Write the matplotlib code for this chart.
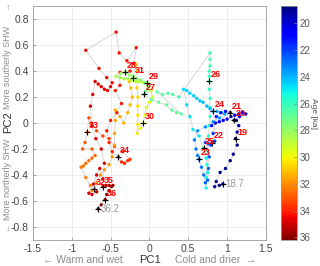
import numpy as np
import matplotlib
matplotlib.use("Agg")
import matplotlib.pyplot as plt

plt.rcParams['axes.unicode_minus'] = False
plt.rcParams['font.family'] = ['Liberation Sans', 'DejaVu Sans']

# Trajectory in PC space, oldest (36.2 ka) to youngest (18.7 ka)
age = [36.2, 36.1, 36.0, 35.9, 35.8, 35.7, 35.6, 35.4, 35.2, 35.0,
       34.97, 34.95, 34.92, 34.90, 34.87, 34.85, 34.82, 34.80, 34.77, 34.75,
       34.72, 34.70, 34.67, 34.65, 34.62, 34.60, 34.57, 34.55, 34.52, 34.50,
       34.47, 34.45, 34.42, 34.40, 34.37, 34.35, 34.32, 34.30, 34.27, 34.25,
       34.22, 34.20, 34.17, 34.15, 34.12, 34.10, 34.07, 34.05, 34.0,
       33.92, 33.84, 33.76, 33.68, 33.6, 33.5, 33.4, 33.3, 33.2, 33.12, 33.06, 33.0,
       32.93, 32.86, 32.79, 32.72, 32.65, 32.58, 32.5, 32.42, 32.34, 32.25, 32.16, 32.08, 32.0,
       31.94, 31.88, 31.82, 31.76, 31.7, 31.64, 31.58, 31.52, 31.46, 31.4, 31.34, 31.28, 31.22, 31.16, 31.1, 31.05, 31.0,
       30.91, 30.82, 30.73, 30.64, 30.55, 30.46, 30.37, 30.28, 30.19, 30.1, 30.0,
       29.85, 29.7, 29.55, 29.4, 29.25, 29.1, 29.0,
       28.9, 28.8, 28.7, 28.6, 28.5, 28.4, 28.3, 28.2, 28.1, 28.0,
       27.89, 27.78, 27.67, 27.56, 27.45, 27.34, 27.23, 27.12, 27.0,
       26.94, 26.88, 26.82, 26.76, 26.7, 26.64, 26.58, 26.52, 26.46, 26.4, 26.34, 26.28, 26.22, 26.16, 26.1, 26.05, 26.0,
       25.92, 25.84, 25.76, 25.68, 25.6, 25.52, 25.44, 25.36, 25.28, 25.2, 25.13, 25.06, 25.0,
       24.93, 24.86, 24.79, 24.72, 24.65, 24.58, 24.5, 24.42, 24.34, 24.26, 24.18, 24.1, 24.05, 24.0,
       23.9, 23.8, 23.7, 23.6, 23.5, 23.4, 23.3, 23.2, 23.1, 23.05, 23.0,
       22.9, 22.8, 22.7, 22.6, 22.5, 22.4, 22.3, 22.2, 22.1, 22.0,
       21.8, 21.6, 21.4, 21.2, 21.1, 21.0,
       20.92, 20.84, 20.76, 20.68, 20.6, 20.52, 20.44, 20.36, 20.28, 20.2, 20.1, 20.0,
       19.75, 19.5, 19.25, 19.0,
       18.97, 18.93, 18.9, 18.87, 18.83, 18.8, 18.77, 18.73, 18.7]

pc1 = [-0.66, -0.62, -0.57, -0.55, -0.52, -0.49, -0.47, -0.52, -0.56, -0.60,
       -0.68, -0.74, -0.78, -0.72, -0.68, -0.64, -0.60, -0.58, -0.62, -0.69,
       -0.74, -0.76, -0.73, -0.70, -0.66, -0.62, -0.58, -0.54, -0.50, -0.48,
       -0.55, -0.65, -0.82, -0.43, -0.39, -0.29, -0.17, -0.20, -0.25, -0.38,
       -0.38, -0.44, -0.36, -0.42, -0.50, -0.55, -0.52, -0.48, -0.40,
       -0.36, -0.32, -0.28, -0.25, -0.35, -0.45, -0.52, -0.60, -0.68, -0.75, -0.78, -0.80,
       -0.83, -0.86, -0.74, -0.70, -0.74, -0.78, -0.82, -0.85, -0.88, -0.82, -0.76, -0.74, -0.71,
       -0.68, -0.63, -0.58, -0.52, -0.48, -0.45, -0.45, -0.44, -0.44, -0.38, -0.33, -0.28, -0.25, -0.22, -0.24, -0.26, -0.21,
       -0.17, -0.16, -0.16, -0.16, -0.15, -0.15, -0.15, -0.15, -0.16, -0.12, -0.08,
       -0.06, -0.04, 0.00, 0.04, 0.02, -0.01, -0.03,
       -0.08, -0.13, -0.18, -0.23, -0.28, -0.33, -0.38, -0.43, -0.37, -0.31,
       -0.26, -0.21, -0.16, -0.11, -0.06, -0.02, -0.03, -0.05, -0.07,
       0.03, 0.12, 0.22, 0.29, 0.35, 0.41, 0.10, 0.17, 0.24, 0.30, 0.38, 0.78, 0.78, 0.78, 0.77, 0.77, 0.77,
       0.77, 0.78, 0.78, 0.78, 0.77, 0.76, 0.75, 0.74, 0.73, 0.73, 0.75, 0.73, 0.70,
       0.64, 0.56, 0.52, 0.48, 0.44, 0.48, 0.52, 0.57, 0.61, 0.65, 0.69, 0.74, 0.78, 0.82,
       0.87, 0.92, 0.97, 0.90, 0.82, 0.72, 0.62, 0.58, 0.60, 0.62, 0.64,
       0.67, 0.70, 0.72, 0.75, 0.76, 0.77, 0.72, 0.76, 0.79, 0.81,
       0.84, 0.82, 0.86, 0.92, 0.98, 1.04,
       0.80, 0.85, 0.90, 0.95, 1.00, 1.05, 1.10, 1.15, 1.20, 1.24, 1.16, 1.09,
       1.12, 1.15, 1.13, 1.11,
       1.13, 1.08, 1.04, 0.98, 0.91, 0.86, 0.84, 0.90, 0.946]

pc2 = [-0.66, -0.63, -0.59, -0.55, -0.52, -0.49, -0.48, -0.48, -0.48, -0.49,
       -0.53, -0.55, -0.54, -0.47, -0.40, -0.35, -0.43, -0.31, -0.20, -0.12,
       -0.02, 0.13, 0.22, 0.32, 0.30, 0.28, 0.26, 0.25, 0.28, 0.31,
       0.35, 0.42, 0.56, 0.70, 0.54, 0.48, 0.58, 0.46, 0.40, 0.39,
       0.29, 0.25, 0.15, 0.08, 0.02, -0.06, -0.15, -0.22, -0.26,
       -0.30, -0.31, -0.29, -0.28, -0.22, -0.18, -0.12, -0.10, -0.06, 0.00, 0.04, -0.07,
       -0.15, -0.20, -0.20, -0.25, -0.27, -0.29, -0.31, -0.33, -0.34, -0.42, -0.48, -0.52, -0.51,
       -0.46, -0.40, -0.36, -0.32, -0.26, -0.17, -0.08, 0.02, 0.10, 0.05, 0.00, 0.08, 0.14, 0.20, 0.27, 0.32, 0.35,
       0.45, 0.40, 0.33, 0.27, 0.20, 0.13, 0.06, -0.01, -0.08, -0.04, 0.00,
       0.06, 0.12, 0.16, 0.20, 0.25, 0.28, 0.31,
       0.31, 0.32, 0.32, 0.33, 0.34, 0.34, 0.35, 0.36, 0.38, 0.39,
       0.37, 0.36, 0.34, 0.33, 0.31, 0.29, 0.26, 0.24, 0.22,
       0.18, 0.16, 0.14, 0.10, 0.08, 0.07, 0.24, 0.22, 0.23, 0.22, 0.20, 0.54, 0.49, 0.44, 0.40, 0.36, 0.32,
       0.26, 0.19, 0.12, 0.05, -0.02, -0.10, -0.22, -0.32, -0.42, -0.50, -0.38, -0.27, -0.19,
       -0.10, -0.05, 0.05, 0.14, 0.26, 0.25, 0.23, 0.21, 0.19, 0.17, 0.16, 0.13, 0.11, 0.09,
       0.09, 0.08, 0.07, 0.04, 0.01, -0.03, -0.06, -0.13, -0.20, -0.25, -0.28,
       -0.34, -0.40, -0.46, -0.44, -0.35, -0.26, -0.15, -0.16, -0.17, -0.15,
       -0.14, -0.08, 0.05, 0.08, 0.09, 0.08,
       -0.02, 0.00, 0.01, 0.02, 0.03, 0.05, 0.06, 0.07, 0.08, 0.07, 0.05, 0.02,
       0.02, -0.02, -0.07, -0.12,
       -0.17, -0.24, -0.29, -0.35, -0.38, -0.45, -0.49, -0.48, -0.47]

label_ages = [19, 20, 21, 22, 23, 24, 25, 26, 27, 28, 29, 30, 31, 32, 33, 34, 35, 36]
end_ages = [18.7, 36.2]

age = np.array(age)
pc1 = np.array(pc1)
pc2 = np.array(pc2)

fig = plt.figure(figsize=(3.2, 2.66), dpi=100)
ax = fig.add_axes([0.103, 0.098, 0.728, 0.879])
cax = fig.add_axes([0.878, 0.098, 0.05, 0.879])

ax.plot(pc1, pc2, color='#dadada', lw=0.8, zorder=1)
sc = ax.scatter(pc1, pc2, c=age, cmap='jet', vmin=18.7, vmax=36.2, s=6,
                linewidths=0, zorder=2)

for a in label_ages + end_ages:
    i = np.argmin(np.abs(age - a))
    ax.plot(pc1[i], pc2[i], '+', color='k', ms=5, mew=0.8, zorder=3)
    if a in end_ages:
        ax.annotate(f"{a:g}", (pc1[i], pc2[i]), xytext=(2, 0), textcoords='offset points',
                    ha='left', va='center', fontsize=7, color='#999999', zorder=4)
    else:
        ax.annotate(f"{a}", (pc1[i], pc2[i]), xytext=(1, 1.5), textcoords='offset points',
                    ha='left', va='bottom', fontsize=6.5, color='red', fontweight='bold', zorder=4)

ax.set_xlim(-1.5, 1.5)
ax.set_ylim(-0.9, 0.9)
ax.set_xticks([-1.5, -1, -0.5, 0, 0.5, 1, 1.5])
ax.set_xticklabels(['-1.5', '-1', '-0.5', '0', '0.5', '1', '1.5'])
ax.set_yticks([-0.8, -0.6, -0.4, -0.2, 0, 0.2, 0.4, 0.6, 0.8])
ax.set_yticklabels(['-0.8', '-0.6', '-0.4', '-0.2', '0', '0.2', '0.4', '0.6', '0.8'])
ax.tick_params(direction='in', length=2, width=0.5, color='#888888',
               labelsize=7.5, labelcolor='#444444', pad=3)
ax.grid(color='#e6e6e6', lw=0.5)
ax.set_axisbelow(True)
for sp in ax.spines.values():
    sp.set_color('#999999')
    sp.set_linewidth(0.6)

cb = fig.colorbar(sc, cax=cax)
cax.invert_yaxis()
cb.set_ticks([20, 22, 24, 26, 28, 30, 32, 34, 36])
cax.tick_params(direction='in', length=2, width=0.5, color='#888888',
                labelsize=7, labelcolor='#555555', pad=2)
cb.outline.set_edgecolor('#999999')
cb.outline.set_linewidth(0.6)

# axis captions
W, H = 320, 266
fig.text(150 / W, 1 - 260 / H, 'PC1', ha='center', va='center', fontsize=8, color='#333333')
fig.text(83 / W, 1 - 260 / H, '← Warm and wet', ha='center', va='center', fontsize=7.5, color='#8c8c8c')
fig.text(208 / W, 1 - 260 / H, 'Cold and drier', ha='center', va='center', fontsize=7.5, color='#8c8c8c')
fig.text(251 / W, 1 - 260 / H, '→', ha='center', va='center', fontsize=7.5, color='#8c8c8c')
fig.text(8 / W, 1 - 122 / H, 'PC2', ha='center', va='center', rotation=90, fontsize=8, color='#333333')
fig.text(8 / W, 1 - 67 / H, 'More southerly SHW', ha='center', va='center', rotation=90, fontsize=6.5, color='#8c8c8c')
fig.text(8 / W, 1 - 7 / H, '↑', ha='center', va='center', fontsize=6.5, color='#8c8c8c')
fig.text(8 / W, 1 - 179 / H, 'More northerly SHW', ha='center', va='center', rotation=90, fontsize=6.5, color='#8c8c8c')
fig.text(8 / W, 1 - 228 / H, '↓', ha='center', va='center', fontsize=6.5, color='#8c8c8c')
fig.text(314 / W, 1 - 113 / H, 'Age [ka]', ha='center', va='center', rotation=-90, fontsize=6, color='#555555')

fig.savefig('out.png', dpi=100)
